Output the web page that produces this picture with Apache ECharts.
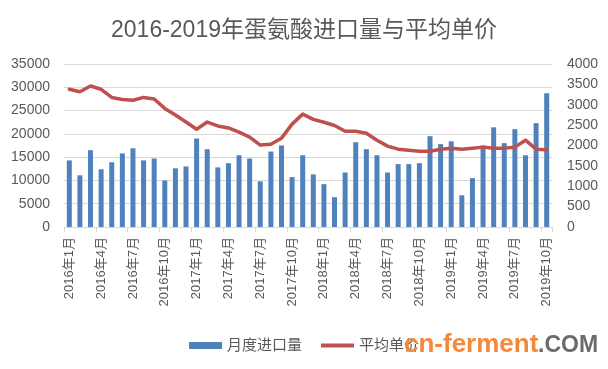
<!DOCTYPE html>
<html>
<head>
<meta charset="utf-8">
<script src="https://cdn.jsdelivr.net/npm/echarts@6/dist/echarts.min.js"></script>
<style>
html,body{margin:0;padding:0;background:#fff;}
#c{width:608px;height:369px;}
</style>
</head>
<body>
<div id="c"></div>
<script>
var years = ['2016', '2017', '2018', '2019'];
var monthsPerYear = [12, 12, 12, 10];
var categories = [];
years.forEach(function (y, i) {
  for (var m = 1; m <= monthsPerYear[i]; m++) categories.push(y + '年' + m + '月');
});

var importVolume = [14300, 11100, 16500, 12400, 13900, 15800, 16900, 14300, 14700, 10000,
  12600, 13000, 19000, 16700, 12800, 13700, 15400, 14700, 9800, 16200,
  17500, 10700, 15400, 11300, 9200, 6400, 11700, 18200, 16700, 15400,
  11700, 13500, 13500, 13700, 19500, 17800, 18400, 6800, 10500, 17500,
  21400, 18000, 21000, 15400, 22300, 28700];

var avgPrice = [3380, 3320, 3460, 3380, 3180, 3130, 3110, 3180, 3140, 2910,
  2750, 2575, 2400, 2575, 2480, 2430, 2330, 2205, 2010, 2030,
  2180, 2525, 2770, 2640, 2570, 2490, 2350, 2350, 2300, 2130,
  1985, 1910, 1885, 1860, 1860, 1910, 1935, 1910, 1935, 1960,
  1935, 1935, 1960, 2130, 1910, 1895];

var seriesNames = ['月度进口量', '平均单价'];
var titleText = '2016-2019年蛋氨酸进口量与平均单价';

var FONT = '"Liberation Sans", "Noto Sans CJK SC", sans-serif';
var TXT = '#595959';
function plain(v) { return String(v); }

var chart = echarts.init(document.getElementById('c'), null, {renderer: 'canvas'});
chart.setOption({
  animation: false,
  backgroundColor: '#ffffff',
  title: {
    text: titleText,
    left: 'center',
    top: 14,
    textStyle: {fontFamily: FONT, fontSize: 23, fontWeight: 'normal', color: TXT}
  },
  legend: {
    data: [
      {name: seriesNames[0], icon: 'rect'},
      {name: seriesNames[1], icon: 'path://M0,0 M0,1.5 H33 V5.5 H0 Z M33,7'}
    ],
    left: 'center',
    top: 333,
    itemWidth: 33,
    itemHeight: 7,
    itemGap: 19,
    textStyle: {fontFamily: FONT, fontSize: 15, color: TXT}
  },
  grid: {left: 64, right: 56, top: 64, bottom: 142, containLabel: false},
  xAxis: {
    type: 'category',
    data: categories,
    boundaryGap: true,
    axisLine: {lineStyle: {color: '#d9d9d9', width: 1}},
    axisTick: {show: true, interval: 2, length: 5, lineStyle: {color: '#d9d9d9'}},
    axisLabel: {interval: 2, rotate: 90, fontFamily: FONT, fontSize: 13, color: TXT, margin: 10}
  },
  yAxis: [
    {
      type: 'value', min: 0, max: 35000, interval: 5000,
      axisLine: {show: false}, axisTick: {show: false},
      splitLine: {lineStyle: {color: '#d9d9d9', width: 1}},
      axisLabel: {fontFamily: FONT, fontSize: 14, color: TXT, margin: 14, formatter: plain}
    },
    {
      type: 'value', min: 0, max: 4000, interval: 500,
      axisLine: {show: false}, axisTick: {show: false},
      splitLine: {show: false},
      axisLabel: {fontFamily: FONT, fontSize: 14, color: TXT, margin: 15, formatter: plain}
    }
  ],
  series: [
    {
      name: seriesNames[0],
      type: 'bar',
      yAxisIndex: 0,
      data: importVolume,
      barWidth: 5,
      itemStyle: {color: '#4F81BD'}
    },
    {
      name: seriesNames[1],
      type: 'line',
      yAxisIndex: 1,
      data: avgPrice,
      symbol: 'none',
      smooth: false,
      lineStyle: {color: '#C0504D', width: 3.5, join: 'round', cap: 'round'},
      itemStyle: {color: '#C0504D'}
    }
  ],
  graphic: [
    {type: 'text', left: 404, top: 332, z: 100,
     style: {text: 'cn-ferment', font: 'bold 26px "Liberation Sans", sans-serif', fill: '#F5883A'}},
    {type: 'text', left: 538, top: 334, z: 100,
     style: {text: '.COM', font: 'bold 23px "Liberation Sans", sans-serif', fill: '#6b6b6b'}}
  ]
});
</script>
</body>
</html>
